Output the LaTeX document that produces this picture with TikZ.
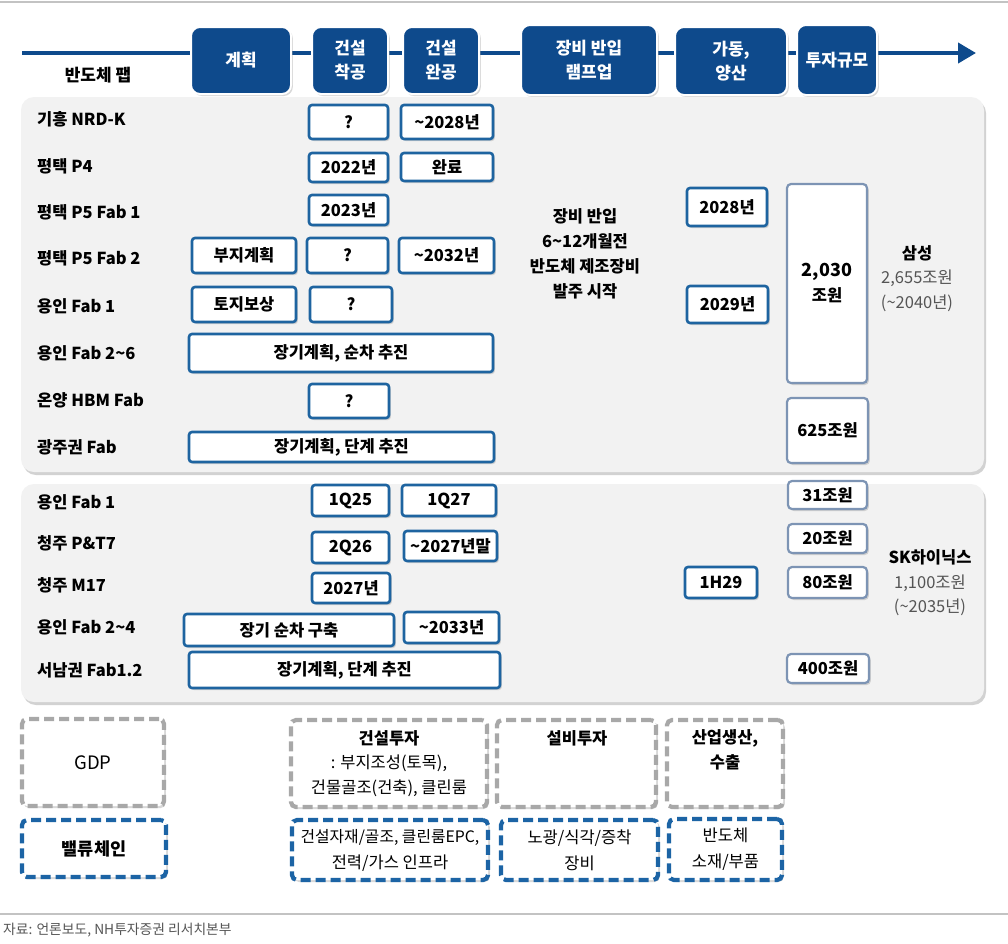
\documentclass[tikz,border=0pt]{standalone}
\usepackage{fontspec}
\setmainfont{Noto Sans CJK KR}
\usetikzlibrary{shadows,arrows.meta}
\definecolor{hdr}{RGB}{14,74,140}
\definecolor{bbc}{RGB}{30,100,160}
\definecolor{gbc}{RGB}{125,148,180}
\definecolor{panelc}{RGB}{242,242,242}
\definecolor{dgray}{RGB}{168,168,168}
\definecolor{dblue}{RGB}{28,100,165}
\definecolor{txtgray}{RGB}{85,85,85}
\definecolor{rulec}{RGB}{195,195,195}
\newcommand\bxn[7]{\node[#1, minimum width={(#5-#3)*1pt}, minimum height={(#6-#4)*1pt}] (#2) at ({(#3+#5)/2},{(#4+#6)/2}) {#7};}
\tikzset{
  shad/.style={drop shadow={opacity=0.3, shadow xshift=1.8pt, shadow yshift=-2pt}},
  hbox/.style={shad, fill=hdr, draw=white, line width=2pt, rounded corners=9pt, text=white, inner sep=0pt, align=center, font=\bfseries\fontsize{17}{24}\selectfont},
  bbox/.style={shad, fill=white, draw=bbc, line width=2.6pt, rounded corners=3pt, inner sep=1pt, align=center, font=\bfseries\fontsize{16.5}{20}\selectfont},
  gbox/.style={shad, fill=white, draw=gbc, line width=2.2pt, rounded corners=4pt, inner sep=1pt, align=center, font=\bfseries\fontsize{16.5}{25}\selectfont},
  panel/.style={drop shadow={opacity=0.35, shadow xshift=2pt, shadow yshift=-3pt}, fill=panelc, rounded corners=13pt, inner sep=0pt},
  lab/.style={anchor=west, inner sep=0pt, font=\bfseries\fontsize{16.5}{20}\selectfont},
  gtxt/.style={inner sep=0pt, text=txtgray, font=\fontsize{16.5}{20}\selectfont},
  ttl/.style={inner sep=0pt, font=\bfseries\fontsize{16.5}{20}\selectfont},
  gdash/.style={shad, fill=white, draw=dgray, line width=4.2pt, dash pattern=on 10pt off 5pt, rounded corners=5pt, inner sep=0pt, align=center, font=\fontsize{16.5}{25}\selectfont},
  bdash/.style={shad, fill=white, draw=dblue, line width=4.2pt, dash pattern=on 10pt off 5pt, rounded corners=5pt, inner sep=0pt, align=center, font=\fontsize{16.5}{26}\selectfont},
}
\begin{document}
\begin{tikzpicture}[x=1pt,y=-1pt]
\useasboundingbox[fill=white] (0,0) rectangle (1008,943);
% rules
\coordinate (r1a) at (0,2); \coordinate (r1b) at (1008,2);
\draw[rulec, line width=1.5pt] (r1a) -- (r1b);
\coordinate (r2a) at (0,914); \coordinate (r2b) at (1008,914);
\draw[rulec, line width=1.2pt] (r2a) -- (r2b);
% timeline
\coordinate (ts) at (22,53); \coordinate (te) at (976,53);
\draw[hdr, line width=4pt, -{Triangle[length=18pt,width=20pt]}] (ts) -- (te);
\node[ttl, font=\bfseries\fontsize{17}{20}\selectfont] (fab) at (98,75) {반도체 팹};
% header boxes
\bxn{hbox}{h1}{191}{27}{291}{94}{계획}
\bxn{hbox}{h2}{312}{27}{388}{94}{건설\\착공}
\bxn{hbox}{h3}{403}{27}{479}{94}{건설\\완공}
\bxn{hbox}{h4}{521}{25}{657}{95}{장비 반입\\램프업}
\bxn{hbox}{h5}{675}{27}{787}{95}{가동,\\양산}
\bxn{hbox}{h6}{797}{25}{877}{95}{투자규모}
% panels
\bxn{panel}{ps}{21}{97}{984}{472}{}
\bxn{panel}{pk}{21}{484}{984}{702}{}
% Samsung labels
\node[lab] (l1) at (37,119) {기흥 NRD-K};
\node[lab] (l2) at (37,166) {평택 P4};
\node[lab] (l3) at (37,212) {평택 P5 Fab 1};
\node[lab] (l4) at (37,258) {평택 P5 Fab 2};
\node[lab] (l5) at (37,306) {용인 Fab 1};
\node[lab] (l6) at (37,353) {용인 Fab 2\textasciitilde6};
\node[lab] (l7) at (37,400) {온양 HBM Fab};
\node[lab] (l8) at (37,447) {광주권 Fab};
% Samsung boxes
\bxn{bbox}{s1a}{309}{105}{388}{139}{?}
\bxn{bbox}{s1b}{401}{105}{493}{139}{\textasciitilde2028년}
\bxn{bbox}{s2a}{309}{153}{388}{182}{2022년}
\bxn{bbox}{s2b}{401}{153}{493}{181}{완료}
\bxn{bbox}{s3a}{309}{195}{388}{225}{2023년}
\bxn{bbox}{s4p}{192}{238}{296}{273}{부지계획}
\bxn{bbox}{s4a}{307}{238}{388}{273}{?}
\bxn{bbox}{s4b}{399}{238}{494}{273}{\textasciitilde2032년}
\bxn{bbox}{s5p}{192}{287}{296}{322}{토지보상}
\bxn{bbox}{s5a}{310}{287}{392}{322}{?}
\bxn{bbox}{s6}{189}{334}{493}{372}{장기계획, 순차 추진}
\bxn{bbox}{s7a}{309}{384}{389}{418}{?}
\bxn{bbox}{s8}{189}{432}{494}{462}{장기계획, 단계 추진}
\node[ttl, align=center, font=\bfseries\fontsize{16.5}{25}\selectfont] (eq) at (585,254) {장비 반입\\6\textasciitilde12개월전\\반도체 제조장비\\발주 시작};
\bxn{bbox}{s3o}{687}{188}{767}{226}{2028년}
\bxn{bbox}{s5o}{687}{286}{768}{323}{2029년}
\bxn{gbox}{sinv}{787}{184}{867}{383}{\fontsize{18}{25}\selectfont 2,030\\조원}
\bxn{gbox}{sinv2}{787}{398}{868}{463}{625조원}
\node[ttl] (sam1) at (917,253) {삼성};
\node[gtxt] (sam2) at (917,278) {2,655조원};
\node[gtxt] (sam3) at (917,303) {(\textasciitilde2040년)};
% SK labels
\node[lab] (k1) at (37,502) {용인 Fab 1};
\node[lab] (k2) at (37,543) {청주 P\&T7};
\node[lab] (k3) at (37,585) {청주 M17};
\node[lab] (k4) at (37,627) {용인 Fab 2\textasciitilde4};
\node[lab] (k5) at (37,670) {서남권 Fab1.2};
% SK boxes
\bxn{bbox}{k1a}{312}{485}{389}{516}{1Q25}
\bxn{bbox}{k1b}{402}{485}{496}{516}{1Q27}
\bxn{bbox}{k2a}{312}{532}{389}{563}{2Q26}
\bxn{bbox}{k2b}{404}{531}{497}{561}{\textasciitilde2027년말}
\bxn{bbox}{k3a}{312}{573}{390}{603}{2027년}
\bxn{bbox}{k4p}{184}{614}{394}{646}{장기 순차 구축}
\bxn{bbox}{k4b}{404}{612}{499}{643}{\textasciitilde2033년}
\bxn{bbox}{k5}{189}{652}{500}{688}{장기계획, 단계 추진}
\bxn{bbox}{k3o}{685}{567}{757}{598}{1H29}
\bxn{gbox}{ki1}{788}{481}{867}{509}{31조원}
\bxn{gbox}{ki2}{788}{524}{867}{553}{20조원}
\bxn{gbox}{ki3}{788}{567}{867}{598}{80조원}
\bxn{gbox}{ki5}{787}{654}{869}{683}{400조원}
\node[ttl] (sk1) at (930,557) {SK하이닉스};
\node[gtxt] (sk2) at (930,583) {1,100조원};
\node[gtxt] (sk3) at (930,607) {(\textasciitilde2035년)};
% bottom dashed boxes
\bxn{gdash}{g1}{22}{719}{164}{806}{\fontsize{18.5}{22}\selectfont GDP}
\bxn{bdash}{v1}{22}{820}{166}{877}{\bfseries\fontsize{17.5}{22}\selectfont 밸류체인}
\bxn{gdash}{g2}{291}{720}{487}{807}{}
\node[ttl] (g2t) at (389,738) {건설투자};
\node[inner sep=0pt, font=\fontsize{16.5}{20}\selectfont] (g2u) at (389,763) {: 부지조성(토목),};
\node[inner sep=0pt, font=\fontsize{16.5}{20}\selectfont] (g2v) at (389,788) {건물골조(건축), 클린룸};
\bxn{bdash}{v2}{292}{820}{488}{880}{\fontsize{15.8}{26}\selectfont 건설자재/골조, 클린룸EPC,\\전력/가스 인프라}
\bxn{gdash}{g3}{497}{720}{656}{807}{}
\node[ttl] (g3t) at (577,738) {설비투자};
\bxn{bdash}{v3}{501}{820}{658}{880}{노광/식각/증착\\장비}
\bxn{gdash}{g4}{667}{720}{783}{807}{}
\node[ttl, align=center, font=\bfseries\fontsize{16.5}{25}\selectfont] (g4t) at (725,750) {산업생산,\\수출};
\bxn{bdash}{v4}{669}{819}{782}{880}{반도체\\소재/부품}
% source
\node[anchor=west, inner sep=0pt, text=txtgray, font=\fontsize{13.8}{16}\selectfont] (src) at (3,930) {자료: 언론보도, NH투자증권 리서치본부};
\end{tikzpicture}
\end{document}
